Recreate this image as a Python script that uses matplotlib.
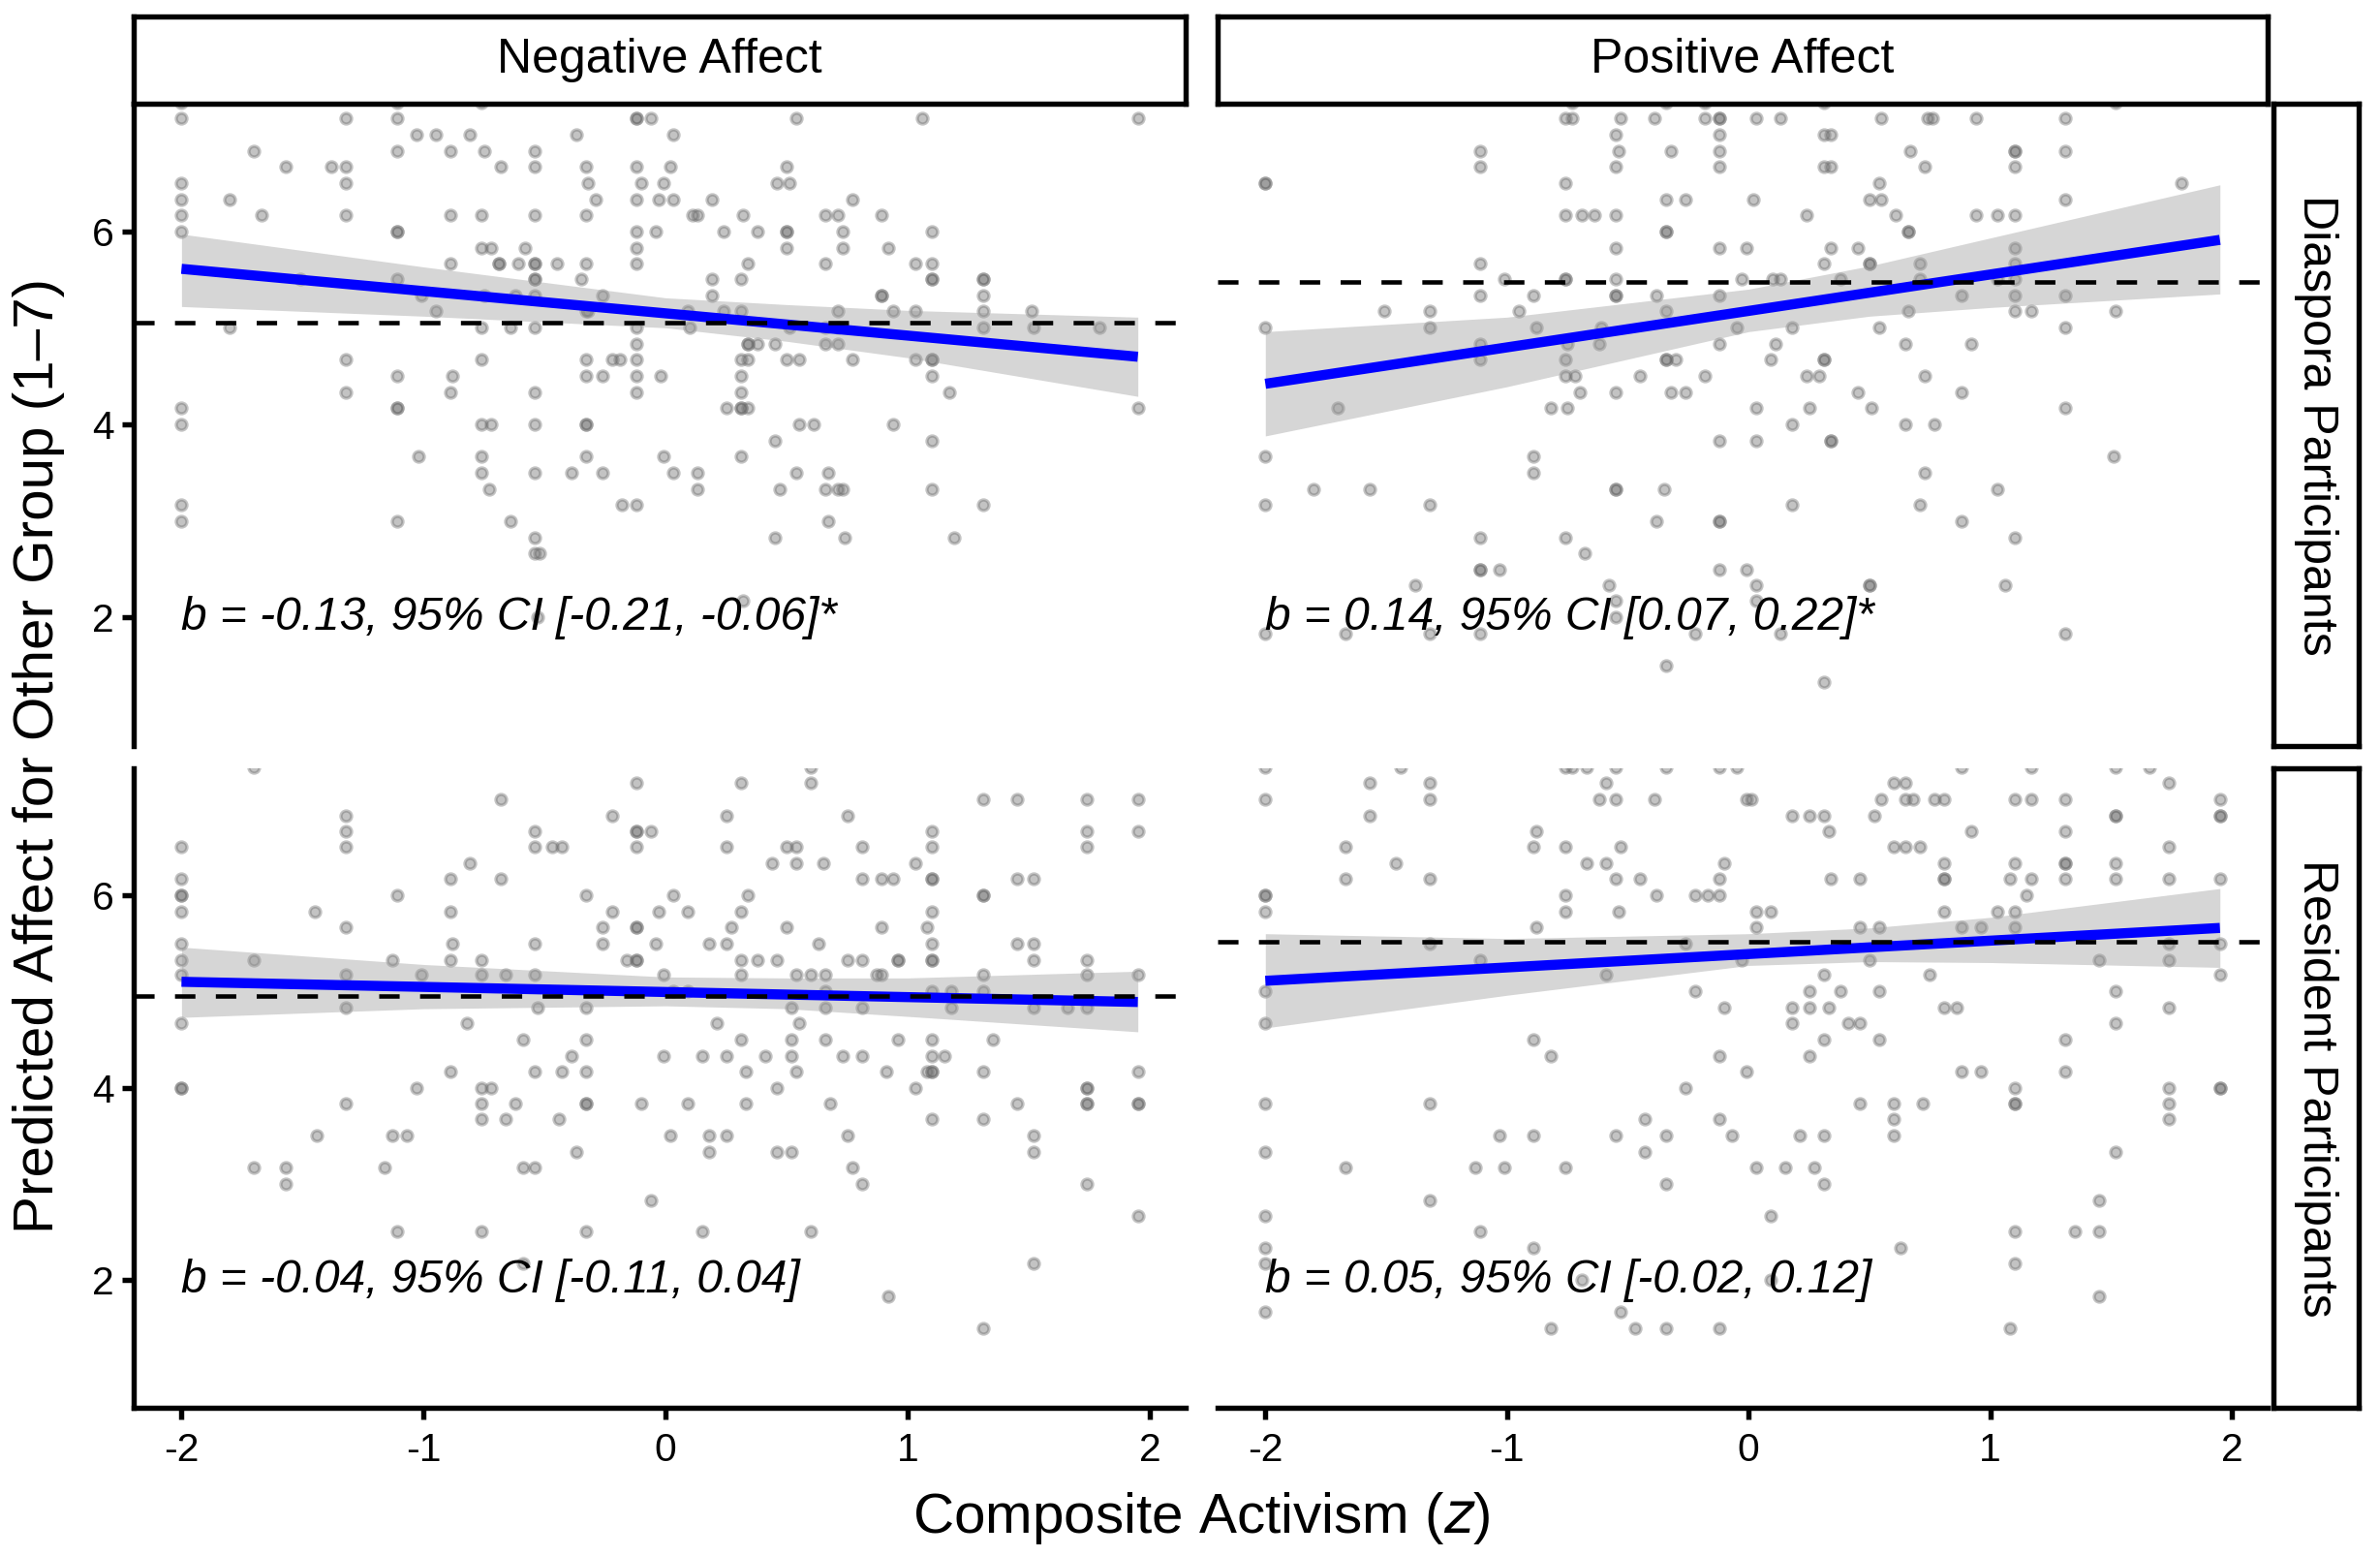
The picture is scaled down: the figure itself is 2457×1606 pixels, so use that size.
import matplotlib
matplotlib.use("Agg")
import matplotlib.pyplot as plt

plt.rcParams['font.family'] = ['Liberation Sans', 'DejaVu Sans']
plt.rcParams['axes.unicode_minus'] = False

## Raw points, grouped by response level (1/6 steps): {y: [activism z, ...]}
neg_dia = {
    7.33: [-2.0, -1.11, -0.76],
    7.17: [-2.0, -1.32, -1.11, -0.12, -0.12, -0.06, 0.54, 1.06, 1.95],
    7.0: [-1.03, -0.95, -0.81, -0.37, 0.03],
    6.83: [-1.70, -1.11, -0.89, -0.75, -0.54],
    6.67: [-1.57, -1.38, -1.32, -0.68, -0.54, -0.33, -0.12, 0.02, 0.50],
    6.5: [-2.0, -1.32, -0.32, -0.10, -0.01, 0.46, 0.51],
    6.33: [-2.0, -1.80, -0.29, -0.12, -0.03, 0.03, 0.19, 0.77],
    6.17: [-2.0, -1.67, -1.32, -0.89, -0.76, -0.54, -0.33, 0.11, 0.13, 0.32, 0.66, 0.71, 0.89],
    6.0: [-2.0, -1.11, -1.11, -0.12, -0.04, 0.24, 0.38, 0.50, 0.50, 0.73, 1.10],
    5.83: [-0.76, -0.72, -0.58, -0.12, 0.50, 0.73, 0.92],
    5.67: [-0.89, -0.69, -0.69, -0.61, -0.54, -0.54, -0.45, -0.33, -0.12, 0.34, 0.66, 1.03, 1.10],
    5.5: [-1.51, -1.11, -0.54, -0.54, -0.35, 0.19, 0.31, 1.10, 1.10, 1.31, 1.31],
    5.33: [-1.01, -0.75, -0.62, -0.54, -0.26, 0.19, 0.89, 0.89, 1.31],
    5.17: [-0.95, -0.33, -0.32, 0.09, 0.24, 0.31, 0.71, 0.94, 1.03, 1.31, 1.51],
    5.0: [-1.80, -0.76, -0.64, -0.54, -0.12, 0.10, 0.51, 0.66, 0.71, 1.31, 1.52, 1.79],
    4.83: [-0.12, 0.34, 0.34, 0.38, 0.45, 0.66, 0.71],
    4.67: [-1.32, -0.76, -0.33, -0.22, -0.19, -0.12, 0.31, 0.34, 0.50, 0.55, 0.77, 1.03, 1.10, 1.10],
    4.5: [-1.11, -0.88, -0.33, -0.26, -0.12, -0.02, 0.31, 1.10],
    4.33: [-1.32, -0.89, -0.54, -0.12, 0.31, 1.17],
    4.17: [-2.0, -1.11, -1.11, 0.25, 0.31, 0.31, 0.34, 1.95],
    4.0: [-2.0, -0.76, -0.72, -0.54, -0.33, -0.33, 0.55, 0.61, 0.94],
    3.83: [0.45, 1.10],
    3.67: [-1.02, -0.76, -0.33, -0.01, 0.31],
    3.5: [-0.76, -0.54, -0.39, -0.26, 0.03, 0.13, 0.54, 0.67],
    3.33: [-0.73, 0.13, 0.47, 0.66, 0.71, 0.73, 1.10],
    3.17: [-2.0, -0.18, -0.12, 1.31],
    3.0: [-2.0, -1.11, -0.64, 0.67],
    2.83: [-0.54, 0.45, 0.74, 1.19],
    2.67: [-0.54, -0.52],
    2.17: [0.32],
    2.0: [-0.53],
}

pos_dia = {
    7.33: [-0.73, -0.34, -0.18, 0.31, 1.52],
    7.17: [-0.76, -0.73, -0.53, -0.39, -0.18, -0.12, -0.12, 0.03, 0.13, 0.55, 0.74, 0.76, 0.94, 1.31],
    7.0: [-0.55, -0.12, 0.31, 0.34],
    6.83: [-1.11, -0.54, -0.32, -0.12, 0.67, 1.10, 1.10, 1.31],
    6.67: [-1.11, -0.55, -0.12, 0.31, 0.34, 0.73, 1.10],
    6.5: [-2.0, -2.0, -0.76, 0.54, 1.79],
    6.33: [-0.34, -0.26, 0.02, 0.50, 0.55, 1.31],
    6.17: [-0.76, -0.69, -0.64, -0.55, 0.24, 0.61, 0.94, 1.03, 1.10],
    6.0: [-0.34, -0.34, 0.66, 0.66],
    5.83: [-0.55, -0.12, -0.01, 0.34, 0.45, 1.10],
    5.67: [-1.11, 0.31, 0.50, 0.50, 0.71, 1.10],
    5.5: [-1.01, -0.76, -0.76, -0.55, -0.03, 0.10, 0.13, 0.38, 0.71, 1.03, 1.10],
    5.33: [-1.11, -0.89, -0.55, -0.55, -0.38, -0.12, 0.88, 1.10, 1.31],
    5.17: [-1.51, -1.32, -0.95, -0.34, 0.66, 1.10, 1.17, 1.52],
    5.0: [-2.0, -1.32, -0.88, -0.61, -0.05, 0.18, 0.54, 1.31],
    4.83: [-1.11, -0.75, -0.62, -0.12, 0.11, 0.65, 0.92],
    4.67: [-1.11, -0.76, -0.34, -0.34, -0.30, 0.09, 0.31, 0.31],
    4.5: [-0.76, -0.72, -0.45, -0.18, 0.24, 0.29, 0.73],
    4.33: [-0.70, -0.55, -0.32, -0.26, 0.45, 0.88],
    4.17: [-1.70, -0.82, -0.75, 0.03, 0.25, 0.51, 1.31],
    4.0: [0.18, 0.65, 0.77],
    3.83: [-0.12, 0.03, 0.34, 0.34],
    3.67: [-2.0, -0.89, 1.51],
    3.5: [-0.89, 0.73],
    3.33: [-1.80, -1.57, -0.55, -0.55, -0.35, 1.03],
    3.17: [-2.0, -1.32, 0.18, 0.71],
    3.0: [-0.38, -0.12, -0.12, 0.88],
    2.83: [-1.11, -0.76, 1.10],
    2.67: [-0.68],
    2.5: [-1.11, -1.11, -1.03, -0.12, -0.01],
    2.33: [-1.38, -0.58, 0.03, 0.50, 0.50, 1.06],
    2.17: [-0.55, 0.03],
    2.0: [-0.55],
    1.83: [-2.0, -1.67, -1.32, -1.11, -0.22, 0.13, 1.31],
    1.5: [-0.34],
    1.33: [0.31],
}

neg_res = {
    7.33: [-1.70, 0.60],
    7.17: [-0.12, 0.31, 0.60],
    7.0: [-0.68, 1.31, 1.45, 1.74, 1.95],
    6.83: [-1.32, -0.22, 0.25, 0.75],
    6.67: [-1.32, -0.54, -0.12, -0.12, -0.06, 1.10, 1.74, 1.95],
    6.5: [-2.0, -1.32, -0.54, -0.47, -0.43, -0.12, 0.25, 0.50, 0.54, 0.81, 1.10, 1.74],
    6.33: [-0.81, 0.44, 0.54, 0.65, 1.03],
    6.17: [-2.0, -0.89, -0.68, 0.81, 0.89, 0.94, 1.10, 1.10, 1.45, 1.52],
    6.0: [-2.0, -2.0, -1.11, -0.33, 0.03, 0.34, 1.31, 1.31],
    5.83: [-2.0, -1.45, -0.89, -0.22, -0.03, 0.09, 0.31, 1.10],
    5.67: [-1.32, -0.26, -0.12, -0.12, 0.27, 0.50, 0.89, 1.08],
    5.5: [-2.0, -0.88, -0.54, -0.26, -0.04, 0.18, 0.25, 0.63, 1.10, 1.45, 1.52],
    5.33: [-2.0, -1.70, -1.13, -0.89, -0.76, -0.16, -0.12, -0.12, 0.31, 0.38, 0.46, 0.75, 0.81,
           0.96, 0.96, 1.10, 1.10, 1.52, 1.74],
    5.17: [-2.0, -1.32, -1.01, -0.76, -0.66, -0.54, -0.01, 0.31, 0.54, 0.60, 0.66, 0.87, 0.89,
           1.31, 1.74, 1.95],
    5.0: [0.03, 0.09, 0.66, 1.10, 1.18, 1.31],
    4.83: [-1.32, -0.53, -0.33, 0.52, 0.66, 0.81, 1.18, 1.52, 1.66, 1.74],
    4.67: [-2.0, -0.82, 0.21, 0.55],
    4.5: [-0.59, -0.33, 0.31, 0.52, 0.66, 0.96, 1.10, 1.35],
    4.33: [-0.39, -0.01, 0.15, 0.25, 0.41, 0.52, 0.73, 0.81, 1.10, 1.15],
    4.17: [-0.89, -0.54, -0.43, -0.33, 0.33, 0.54, 0.91, 1.08, 1.10, 1.10, 1.31, 1.95],
    4.0: [-2.0, -2.0, -1.03, -0.76, -0.72, 0.46, 1.03, 1.74, 1.74],
    3.83: [-1.32, -0.76, -0.62, -0.33, -0.33, -0.10, 0.09, 0.33, 0.68, 1.45, 1.74, 1.74, 1.95, 1.95],
    3.67: [-0.76, -0.66, -0.44, 1.10, 1.31],
    3.5: [-1.44, -1.13, -1.07, 0.02, 0.18, 0.25, 0.75, 1.52],
    3.33: [-0.37, 0.18, 0.46, 0.52, 1.52],
    3.17: [-1.70, -1.57, -1.16, -0.59, -0.54, 0.77],
    3.0: [-1.57, 0.81, 1.74],
    2.83: [-0.06],
    2.67: [1.95],
    2.5: [-1.11, -0.76, -0.33, 0.15, 0.60],
    2.17: [-0.59, 1.52],
    1.83: [0.92],
    1.5: [1.31],
}

pos_res = {
    7.33: [-2.0, -1.44, -0.76, -0.73, -0.67, -0.55, -0.34, -0.12, -0.05, 0.88, 1.17, 1.52, 1.66],
    7.17: [-1.57, -1.32, -0.59, 0.60, 0.65, 1.74],
    7.0: [-2.0, -1.32, -0.62, -0.55, -0.39, -0.01, 0.01, 0.55, 0.65, 0.68, 0.77, 0.81, 1.10,
          1.17, 1.31, 1.95],
    6.83: [-1.57, 0.18, 0.25, 0.31, 0.52, 1.52, 1.52, 1.95, 1.95],
    6.67: [-0.88, 0.33, 0.92, 1.31],
    6.5: [-1.67, -0.89, -0.76, -0.53, 0.60, 0.65, 0.71, 1.74],
    6.33: [-1.46, -0.67, -0.59, -0.10, 0.81, 1.10, 1.31, 1.31, 1.52],
    6.17: [-1.67, -1.32, -0.55, -0.45, -0.12, 0.34, 0.46, 0.81, 0.81, 1.08, 1.17, 1.31, 1.52,
           1.74, 1.95],
    6.0: [-2.0, -2.0, -0.76, -0.38, -0.22, -0.17, -0.12, 1.15],
    5.83: [-2.0, -0.76, -0.54, 0.03, 0.09, 0.81, 1.03, 1.10],
    5.67: [-0.88, 0.03, 0.46, 0.54, 0.88, 0.96, 1.10],
    5.5: [-1.32, -0.26, 1.74, 1.95],
    5.33: [-1.11, -0.03, 0.50, 1.45, 1.74],
    5.17: [-0.59, 0.31, 0.75, 1.95],
    5.0: [-2.0, -0.22, 0.25, 0.38, 0.54, 1.52],
    4.83: [-0.10, 0.18, 0.25, 0.33, 0.81, 0.86, 1.74],
    4.67: [-2.0, 0.18, 0.41, 0.46, 1.52],
    4.5: [-0.89, 0.31, 0.54, 1.31],
    4.33: [-0.82, -0.12, 0.25],
    4.17: [-0.01, 0.88, 0.96, 1.31],
    4.0: [-0.26, 1.10, 1.74, 1.95, 1.95],
    3.83: [-2.0, -1.32, 0.46, 0.60, 0.72, 1.10, 1.10, 1.74],
    3.67: [-0.43, -0.12, 0.60, 1.74],
    3.5: [-1.03, -0.89, -0.55, -0.34, -0.07, 0.21, 0.31, 0.60],
    3.33: [-2.0, -0.43, 1.52],
    3.17: [-1.67, -1.13, -1.01, -0.76, 0.03, 0.15, 0.27],
    3.0: [-0.34, 0.31],
    2.83: [-1.32, 1.45],
    2.67: [-2.0, 0.09],
    2.5: [-1.11, 1.10, 1.35, 1.45],
    2.33: [-2.0, -0.89, 0.63],
    2.17: [-2.0, 1.10],
    2.0: [-0.69, 0.09],
    1.83: [1.45],
    1.67: [-2.0, -0.53],
    1.5: [-0.82, -0.47, -0.34, -0.12, 1.08],
}

## Fitted lines (x range of data) and 95% bands
line_x = [-2.0, 1.95]
band_x = [-2.0, -1.0, 0.0, 0.5, 1.0, 1.95]

neg_dia_fit = [5.61, 4.70]
neg_dia_hi = [5.97, 5.63, 5.31, 5.24, 5.18, 5.11]
neg_dia_lo = [5.22, 5.12, 5.00, 4.86, 4.69, 4.29]

pos_dia_fit = [4.42, 5.91]
pos_dia_hi = [4.96, 5.11, 5.40, 5.64, 5.93, 6.48]
pos_dia_lo = [3.88, 4.39, 4.96, 5.12, 5.21, 5.35]

neg_res_fit = [5.10, 4.89]
neg_res_hi = [5.46, 5.28, 5.15, 5.14, 5.14, 5.21]
neg_res_lo = [4.73, 4.82, 4.85, 4.82, 4.74, 4.58]

pos_res_fit = [5.11, 5.66]
pos_res_hi = [5.60, 5.55, 5.60, 5.66, 5.77, 6.07]
pos_res_lo = [4.62, 4.96, 5.27, 5.31, 5.30, 5.25]

# Mean of the other group (dashed reference lines)
ref_lines = {'neg_dia': 5.05, 'pos_dia': 5.47, 'neg_res': 4.95, 'pos_res': 5.52}

notes = {
    'neg_dia': 'b = -0.13, 95% CI [-0.21, -0.06]*',
    'pos_dia': 'b = 0.14, 95% CI [0.07, 0.22]*',
    'neg_res': 'b = -0.04, 95% CI [-0.11, 0.04]',
    'pos_res': 'b = 0.05, 95% CI [-0.02, 0.12]',
}

col_titles = ['Negative Affect', 'Positive Affect']
row_titles = ['Diaspora Participants', 'Resident Participants']
x_ticks = [-2, -1, 0, 1, 2]
y_ticks = [2, 4, 6]

W, H = 2457, 1606
fig = plt.figure(figsize=(W / 300, H / 300), dpi=300)

# panel boxes in pixels (left, top, right, bottom)
col_px = [(138, 1224), (1257, 2341)]
row_px = [(107, 770), (793, 1453)]

def px_box(x0, y0, x1, y1):
    return [x0 / W, 1 - y1 / H, (x1 - x0) / W, (y1 - y0) / H]

LW = 1.3

def draw_panel(ax, pts, fit, lo, hi, href, note):
    xs = [x for y in pts for x in pts[y]]
    ys = [y for y in pts for x in pts[y]]
    ax.scatter(xs, ys, s=7, c='#6a6a6a', edgecolors='#6a6a6a', linewidths=0.8,
               alpha=0.4, zorder=2)
    ax.fill_between(band_x, lo, hi, color='#999999', alpha=0.4, lw=0, zorder=3)
    ax.plot(line_x, fit, color='#0000FF', lw=2.5, solid_capstyle='butt', zorder=4)
    ax.axhline(href, color='black', lw=1.1, ls=(0, (4.6, 4.6)), zorder=5)
    ax.text(-2.0, 2.0, note, style='italic', fontsize=11.5, ha='left', va='center',
            zorder=6)
    ax.set_xlim(-2.1975, 2.1475)
    ax.set_ylim(0.67, 7.32)
    for s in ax.spines.values():
        s.set_visible(False)
    ax.tick_params(length=2.9, width=LW, labelsize=9.8, color='black')

panels = [
    ('neg_dia', neg_dia, neg_dia_fit, neg_dia_lo, neg_dia_hi, 0, 0),
    ('pos_dia', pos_dia, pos_dia_fit, pos_dia_lo, pos_dia_hi, 0, 1),
    ('neg_res', neg_res, neg_res_fit, neg_res_lo, neg_res_hi, 1, 0),
    ('pos_res', pos_res, pos_res_fit, pos_res_lo, pos_res_hi, 1, 1),
]

for key, pts, fit, lo, hi, r, c in panels:
    (x0, x1), (y0, y1) = col_px[c], row_px[r]
    ax = fig.add_axes(px_box(x0, y0, x1, y1))
    draw_panel(ax, pts, fit, lo, hi, ref_lines[key], notes[key])
    if c == 0:
        ax.spines['left'].set_visible(True)
        ax.spines['left'].set_linewidth(LW)
        ax.set_yticks(y_ticks)
        ax.tick_params(axis='y', pad=2)
    else:
        ax.set_yticks([])
    if r == 1:
        ax.spines['bottom'].set_visible(True)
        ax.spines['bottom'].set_linewidth(LW)
        ax.set_xticks(x_ticks)
        ax.tick_params(axis='x', pad=3)
    else:
        ax.set_xticks([])

# facet strips
def strip(box, label, rot):
    sa = fig.add_axes(px_box(*box))
    sa.set_xticks([])
    sa.set_yticks([])
    for s in sa.spines.values():
        s.set_linewidth(LW)
        s.set_color('black')
    sa.text(0.5, 0.5, label, rotation=rot, ha='center', va='center', fontsize=12,
            transform=sa.transAxes)

for c, title in enumerate(col_titles):
    strip((col_px[c][0], 17, col_px[c][1], 107), title, 0)
for r, title in enumerate(row_titles):
    strip((2347, row_px[r][0], 2435, row_px[r][1]), title, 270)

fig.text(1240 / W, 1 - 1582 / H, 'Composite Activism ($\\mathit{z}$)', ha='center',
         va='baseline', fontsize=14)
fig.text(40 / W, 1 - 780 / H, 'Predicted Affect for Other Group (1\u20137)', rotation=90,
         ha='center', va='center', fontsize=14)

fig.savefig('out.png', dpi=300)
